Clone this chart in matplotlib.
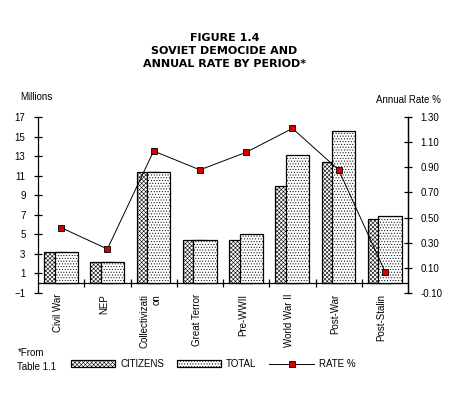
import matplotlib.pyplot as plt
import numpy as np

# values
periods = ['Civil War', 'NEP', 'Collectivizati\non', 'Great Terror', 'Pre-WWII',
           'World War II', 'Post-War', 'Post-Stalin']
citizens = [3.2, 2.2, 11.4, 4.4, 4.45, 10.0, 12.45, 6.6]
total = [3.2, 2.2, 11.4, 4.4, 5.07, 13.1, 15.6, 6.9]
rate = [0.42, 0.25, 1.03, 0.88, 1.02, 1.21, 0.88, 0.07]

plt.rcParams['font.family'] = ['Liberation Sans', 'DejaVu Sans']
plt.rcParams['font.size'] = 7
plt.rcParams['hatch.linewidth'] = 0.4

fig = plt.figure(figsize=(4.58, 3.97), dpi=100)
ax = fig.add_axes([0.083, 0.262, 0.808, 0.443])

x = np.arange(len(periods))
w = 0.5
ax.bar(x - 0.12, citizens, w, color='white', edgecolor='black', linewidth=0.9,
       hatch='xxxxxxxx', label='CITIZENS', zorder=2)
ax.bar(x + 0.11, total, w, color='white', edgecolor='black', linewidth=0.9,
       hatch='......', label='TOTAL', zorder=3)

ax.set_xlim(-0.5, len(periods) - 0.5)
ax.set_ylim(-1, 17)
ax.set_yticks(np.arange(-1, 18, 2))
ax.spines['top'].set_visible(False)
ax.spines['bottom'].set_position(('data', 0))
ax.set_xticks(np.arange(0.5, len(periods) - 0.5, 1))
ax.set_xticklabels([])
ax.tick_params(axis='x', direction='inout', length=6, width=0.9)
ax.tick_params(axis='y', direction='inout', length=6, width=0.9, pad=6)
for s in ax.spines.values():
    s.set_linewidth(0.9)

# category labels sit below the plot area
for i, p in enumerate(periods):
    ax.text(i - 0.07, -0.005, p, transform=ax.get_xaxis_transform(), rotation=90,
            ha='center', va='top', multialignment='right', fontsize=7)

ax2 = ax.twinx()
ax2.set_position([0.083, 0.262, 0.808, 0.443])
ax2.plot(x, rate, color='black', linewidth=0.7, marker='s', markersize=4.5,
         markerfacecolor='#d40000', markeredgecolor='black', markeredgewidth=0.6,
         label='RATE %', zorder=5)
ax2.set_ylim(-0.1, 1.3)
ax2.set_yticks(np.arange(-0.1, 1.31, 0.2))
ax2.set_yticklabels(['%.2f' % v for v in np.arange(-0.1, 1.31, 0.2)])
ax2.spines['top'].set_visible(False)
ax2.spines['bottom'].set_visible(False)
ax2.spines['left'].set_visible(False)
ax2.spines['right'].set_linewidth(0.9)
ax2.tick_params(axis='y', direction='inout', length=6, width=0.9, pad=6)

fig.text(0.044, 0.742, 'Millions', fontsize=7, va='bottom')
fig.text(0.963, 0.735, 'Annual Rate %', fontsize=7, va='bottom', ha='right')

fig.text(0.49, 0.872, 'FIGURE 1.4\nSOVIET DEMOCIDE AND\nANNUAL RATE BY PERIOD*',
         ha='center', va='center', fontsize=8, fontweight='bold',
         linespacing=1.35, family='DejaVu Sans')

fig.text(0.038, 0.093, '*From\nTable 1.1', fontsize=7, va='center', linespacing=1.4)

h1, l1 = ax.get_legend_handles_labels()
h2, l2 = ax2.get_legend_handles_labels()
fig.legend(h1 + h2, l1 + l2, loc='center left', bbox_to_anchor=(0.135, 0.083),
           ncol=3, frameon=False, handlelength=4.6, handleheight=0.8,
           handletextpad=0.5, columnspacing=1.3, fontsize=7)

plt.savefig('out.png', dpi=100)
plt.close()
